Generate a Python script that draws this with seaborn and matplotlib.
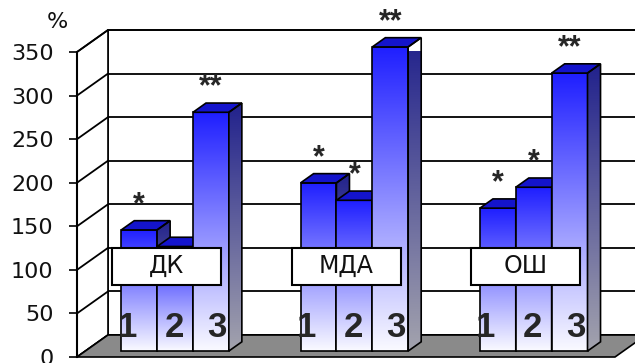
import numpy as np
import pandas as pd
import matplotlib
matplotlib.use("Agg")
import matplotlib.pyplot as plt
from matplotlib.patches import Polygon, Rectangle
import seaborn as sns

# ---------------- data ----------------
groups = ["ДК", "МДА", "ОШ"]
bar_ids = ["1", "2", "3"]
values_dk = [139, 120, 274]
values_mda = [193, 173, 349]
values_osh = [164, 188, 319]
stars_dk = ["*", "", "**"]
stars_mda = ["*", "*", "**"]
stars_osh = ["*", "*", "**"]
yticks = [0, 50, 100, 150, 200, 250, 300, 350]
y_unit = "%"

sns.set_theme(style="white")
plt.rcParams["font.family"] = ["Liberation Sans", "DejaVu Sans"]
wide_font = ["DejaVu Sans"]

W, H = 635, 363
fig = plt.figure(figsize=(W / 100, H / 100), dpi=100)
fig.patch.set_facecolor("white")
ax = fig.add_axes([77 / W, 6 / H, 538 / W, 305 / H])
ax.patch.set_visible(False)

df = pd.DataFrame({
    "group": np.repeat(groups, len(bar_ids)),
    "bar": bar_ids * len(groups),
    "value": values_dk + values_mda + values_osh,
    "star": stars_dk + stars_mda + stars_osh,
})

sns.barplot(data=df, x="group", y="value", hue="bar", order=groups,
            hue_order=bar_ids, width=0.6, gap=0, dodge=True, legend=False,
            errorbar=None, palette={b: "white" for b in bar_ids}, ax=ax)
bars = sorted([p for p in ax.patches if isinstance(p, Rectangle)],
              key=lambda p: p.get_x())

ax.set_xlim(-0.5, len(groups) - 0.5)
ax.set_ylim(yticks[0], yticks[-1])
ax.set_autoscale_on(False)

# pixel -> data conversions
t = ax.transData
px_x = t.transform((1, 0))[0] - t.transform((0, 0))[0]
px_y = t.transform((0, 1))[1] - t.transform((0, 0))[1]
Dx, Dy = 31 / px_x, 22 / px_y          # full depth of the 3D box
f0, f1 = 0.27, 0.69                    # bar front / back depth fraction
x_lo, x_hi = ax.get_xlim()
y_lo, y_hi = ax.get_ylim()
lc = "black"

# ---------------- walls & floor ----------------
ax.add_patch(Rectangle((x_lo + Dx, y_lo + Dy), x_hi - x_lo, y_hi - y_lo,
                       facecolor="white", edgecolor=lc, lw=1.2, zorder=0.5,
                       clip_on=False))
ax.add_patch(Polygon([(x_lo, y_lo), (x_lo + Dx, y_lo + Dy),
                      (x_lo + Dx, y_hi + Dy), (x_lo, y_hi)],
                     closed=True, facecolor="white", edgecolor=lc, lw=1.2,
                     zorder=0.5, clip_on=False))
for v in yticks:
    ax.plot([x_lo + Dx, x_hi + Dx], [v + Dy, v + Dy], color=lc, lw=1.3,
            zorder=0.6, clip_on=False, solid_capstyle="butt")
    ax.plot([x_lo, x_lo + Dx], [v, v + Dy], color=lc, lw=1.3, zorder=0.6,
            clip_on=False)
ax.add_patch(Polygon([(x_lo, y_lo), (x_hi, y_lo), (x_hi + Dx, y_lo + Dy),
                      (x_lo + Dx, y_lo + Dy)], closed=True,
                     facecolor="#8a8a8a", edgecolor=lc, lw=1.2, zorder=0.7,
                     clip_on=False))

# ---------------- 3D bars ----------------
g = np.linspace(0, 1, 256)[:, None, None]
front_top = np.array([0.12, 0.12, 1.0])
front_bot = np.array([0.98, 0.98, 1.0])
front_img = front_top * (1 - g) + front_bot * g
side_top = np.array([0.13, 0.13, 0.55])
side_bot = np.array([0.64, 0.64, 0.68])
side_img = side_top * (1 - g) + side_bot * g
top_color = (0.08, 0.08, 0.80)

ox, oy = f0 * Dx, f0 * Dy
bx, by = (f1 - f0) * Dx, (f1 - f0) * Dy
digit_dx_px = [-12, -1, 6]

for i, p in enumerate(bars):
    z = 2 + i * 0.1
    x0 = p.get_x() + ox
    w = p.get_width()
    h = p.get_height()
    y0 = oy
    x1 = x0 + w
    p.set_x(x0)
    p.set_y(y0)
    p.set_facecolor("none")
    p.set_edgecolor(lc)
    p.set_linewidth(1.2)
    p.set_zorder(z + 0.01)
    p.set_clip_on(False)
    ax.imshow(front_img, extent=(x0, x1, y0, y0 + h), aspect="auto",
              interpolation="bilinear", zorder=z, clip_on=False)
    # top face
    ax.add_patch(Polygon([(x0, y0 + h), (x1, y0 + h), (x1 + bx, y0 + h + by),
                          (x0 + bx, y0 + h + by)], closed=True,
                         facecolor=top_color, edgecolor=lc, lw=1.2,
                         zorder=z + 0.02, clip_on=False))
    # side face
    side_pts = [(x1, y0), (x1 + bx, y0 + by), (x1 + bx, y0 + h + by), (x1, y0 + h)]
    clip_poly = Polygon(side_pts, closed=True, transform=ax.transData)
    ax.imshow(side_img, extent=(x1, x1 + bx, y0, y0 + h + by), aspect="auto",
              interpolation="bilinear", zorder=z + 0.015, clip_path=clip_poly)
    ax.add_patch(Polygon(side_pts, closed=True, facecolor="none",
                         edgecolor=lc, lw=1.2, zorder=z + 0.03, clip_on=False))
    # significance stars
    star = df["star"].iloc[i]
    if star:
        ax.text(x0 + w / 2, y0 + h + 17 / px_y, star, ha="center",
                va="baseline", fontsize=22, fontweight="bold", zorder=6,
                clip_on=False)
    # bar number
    k = i % len(bar_ids)
    ax.text(x0 + w / 2 + digit_dx_px[k] / px_x, y0 + 24 / px_y,
            df["bar"].iloc[i], ha="center", va="center", fontsize=25,
            fontweight="bold", zorder=6, clip_on=False)

# ---------------- category label boxes ----------------
box_w = 109 / px_x
box_y0, box_y1 = 83, 125
for j, name in enumerate(groups):
    ax.add_patch(Rectangle((j - box_w / 2, box_y0), box_w, box_y1 - box_y0,
                           facecolor="white", edgecolor=lc, lw=1.5, zorder=5,
                           clip_on=False))
    ax.text(j, (box_y0 + box_y1) / 2, name, ha="center", va="center",
            fontsize=17, family=wide_font, color="#111111", zorder=5.5,
            clip_on=False)

# ---------------- axes styling ----------------
ax.set_xticks([])
ax.set_yticks(yticks)
ax.set_yticklabels([str(v) for v in yticks], fontsize=16, family=wide_font)
ax.set_xlabel("")
ax.set_ylabel("")
for s in ["top", "right", "bottom"]:
    ax.spines[s].set_visible(False)
ax.spines["left"].set_color(lc)
ax.spines["left"].set_linewidth(1.5)
ax.tick_params(axis="y", left=True, length=5.8, width=1.2, color=lc,
               pad=11, labelcolor="#111111")
fig.text(57 / W, 1 - 22 / H, y_unit, ha="center", va="center", fontsize=16,
         family=wide_font, color="#111111")

fig.savefig("out.png", dpi=100)
